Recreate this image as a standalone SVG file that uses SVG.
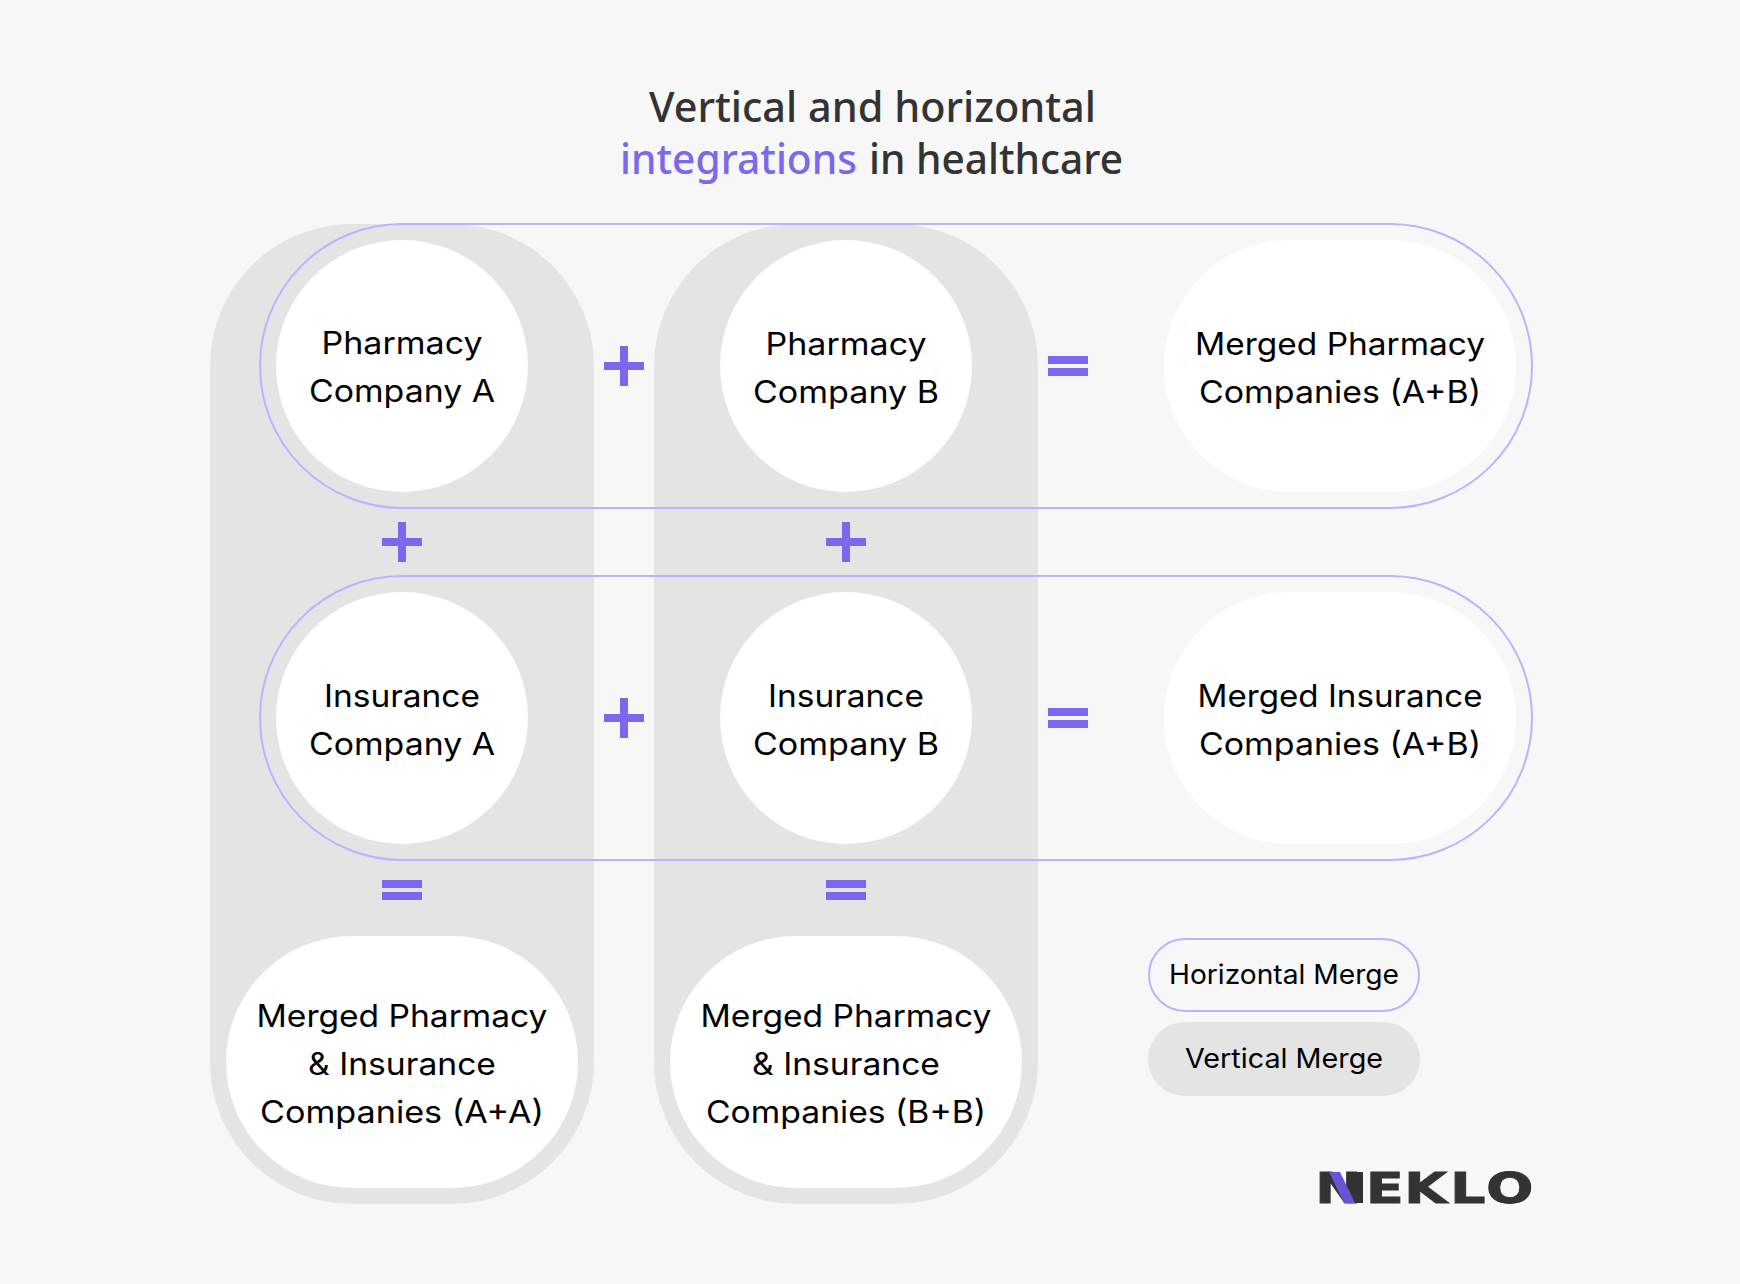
<svg xmlns="http://www.w3.org/2000/svg" width="1740" height="1284" viewBox="0 0 1740 1284">
<style>
.col{fill:#e4e4e4}
.rail{fill:none;stroke:#bdb2ff;stroke-width:2}
.node{fill:#fff}
.op{fill:#7b68ee}
text{font-family:"Inter","Liberation Sans",sans-serif;fill:#000;font-size:31px}
.lg{font-size:27px}
.title{font-family:"Noto Sans","Liberation Sans",sans-serif;font-size:42px;font-weight:500;fill:#333}
.logo{font-family:"DejaVu Sans",sans-serif;font-size:43px;font-weight:700;fill:#333;stroke:#333;stroke-width:.8}
</style>
<rect width="1740" height="1284" fill="#f7f7f7"/>
<g id="title">
<text class="title" x="649" y="122" textLength="447" lengthAdjust="spacingAndGlyphs">Vertical and horizontal</text>
<text class="title" x="620" y="174" textLength="237" lengthAdjust="spacingAndGlyphs" style="fill:#7b68ee">integrations</text>
<text class="title" x="869" y="174" textLength="254" lengthAdjust="spacingAndGlyphs">in healthcare</text>
</g>
<g id="vertical-merge-a"><rect class="col" x="210" y="224" width="384" height="980" rx="142"/></g>
<g id="vertical-merge-b"><rect class="col" x="654" y="224" width="384" height="980" rx="142"/></g>
<g id="connectors">
<rect class="rail" x="260" y="224" width="1272" height="284" rx="142"/>
<rect class="rail" x="260" y="576" width="1272" height="284" rx="142"/>
<path class="op" d="M620 346h8v16h16v8h-16v16h-8v-16h-16v-8h16z"/>
<path class="op" d="M398 522h8v16h16v8h-16v16h-8v-16h-16v-8h16z"/>
<path class="op" d="M842 522h8v16h16v8h-16v16h-8v-16h-16v-8h16z"/>
<path class="op" d="M620 698h8v16h16v8h-16v16h-8v-16h-16v-8h16z"/>
<path class="op" d="M1048 356h40v8h-40zM1048 368h40v8h-40z"/>
<path class="op" d="M1048 708h40v8h-40zM1048 720h40v8h-40z"/>
<path class="op" d="M382 880h40v8h-40zM382 892h40v8h-40z"/>
<path class="op" d="M826 880h40v8h-40zM826 892h40v8h-40z"/>
</g>
<g id="pharmacy-a"><circle class="node" cx="402" cy="366" r="126"/>
<text x="402" y="354" text-anchor="middle" textLength="161" lengthAdjust="spacingAndGlyphs">Pharmacy</text>
<text x="402" y="402" text-anchor="middle" textLength="186" lengthAdjust="spacingAndGlyphs">Company A</text></g>
<g id="pharmacy-b"><circle class="node" cx="846" cy="366" r="126"/>
<text x="846" y="355" text-anchor="middle" textLength="161" lengthAdjust="spacingAndGlyphs">Pharmacy</text>
<text x="846" y="403" text-anchor="middle" textLength="186" lengthAdjust="spacingAndGlyphs">Company B</text></g>
<g id="merged-pharmacy"><rect class="node" x="1164" y="240" width="352" height="252" rx="126"/>
<text x="1340" y="355" text-anchor="middle" textLength="290" lengthAdjust="spacingAndGlyphs">Merged Pharmacy</text>
<text x="1340" y="403" text-anchor="middle" textLength="282" lengthAdjust="spacingAndGlyphs">Companies (A+B)</text></g>
<g id="insurance-a"><circle class="node" cx="402" cy="718" r="126"/>
<text x="402" y="707" text-anchor="middle" textLength="156" lengthAdjust="spacingAndGlyphs">Insurance</text>
<text x="402" y="755" text-anchor="middle" textLength="186" lengthAdjust="spacingAndGlyphs">Company A</text></g>
<g id="insurance-b"><circle class="node" cx="846" cy="718" r="126"/>
<text x="846" y="707" text-anchor="middle" textLength="156" lengthAdjust="spacingAndGlyphs">Insurance</text>
<text x="846" y="755" text-anchor="middle" textLength="186" lengthAdjust="spacingAndGlyphs">Company B</text></g>
<g id="merged-insurance"><rect class="node" x="1164" y="592" width="352" height="252" rx="126"/>
<text x="1340" y="707" text-anchor="middle" textLength="285" lengthAdjust="spacingAndGlyphs">Merged Insurance</text>
<text x="1340" y="755" text-anchor="middle" textLength="282" lengthAdjust="spacingAndGlyphs">Companies (A+B)</text></g>
<g id="merged-aa"><rect class="node" x="226" y="936" width="352" height="252" rx="126"/>
<text x="402" y="1027" text-anchor="middle" textLength="291" lengthAdjust="spacingAndGlyphs">Merged Pharmacy</text>
<text x="402" y="1075" text-anchor="middle" textLength="188" lengthAdjust="spacingAndGlyphs">&amp; Insurance</text>
<text x="402" y="1123" text-anchor="middle" textLength="284" lengthAdjust="spacingAndGlyphs">Companies (A+A)</text></g>
<g id="merged-bb"><rect class="node" x="670" y="936" width="352" height="252" rx="126"/>
<text x="846" y="1027" text-anchor="middle" textLength="291" lengthAdjust="spacingAndGlyphs">Merged Pharmacy</text>
<text x="846" y="1075" text-anchor="middle" textLength="188" lengthAdjust="spacingAndGlyphs">&amp; Insurance</text>
<text x="846" y="1123" text-anchor="middle" textLength="280" lengthAdjust="spacingAndGlyphs">Companies (B+B)</text></g>
<g id="legend-horizontal"><rect x="1149" y="939" width="270" height="72" rx="36" fill="none" stroke="#bdb2ff" stroke-width="2"/>
<text class="lg" x="1284" y="984" text-anchor="middle" textLength="230" lengthAdjust="spacingAndGlyphs">Horizontal Merge</text></g>
<g id="legend-vertical"><rect class="col" x="1148" y="1022" width="272" height="74" rx="37"/>
<text class="lg" x="1284" y="1068" text-anchor="middle" textLength="198" lengthAdjust="spacingAndGlyphs">Vertical Merge</text></g>
<g id="logo">
<text class="logo" transform="translate(1315 1203) scale(1.3 1)" x="0 39 68.5 103.8 131.5" y="0">NEKLO</text>
<rect x="1353" y="1172" width="10" height="31" fill="#333"/>
<polygon points="1329,1172 1340,1172 1355,1203 1344,1203" fill="#6a52d9"/>
</g>
</svg>
